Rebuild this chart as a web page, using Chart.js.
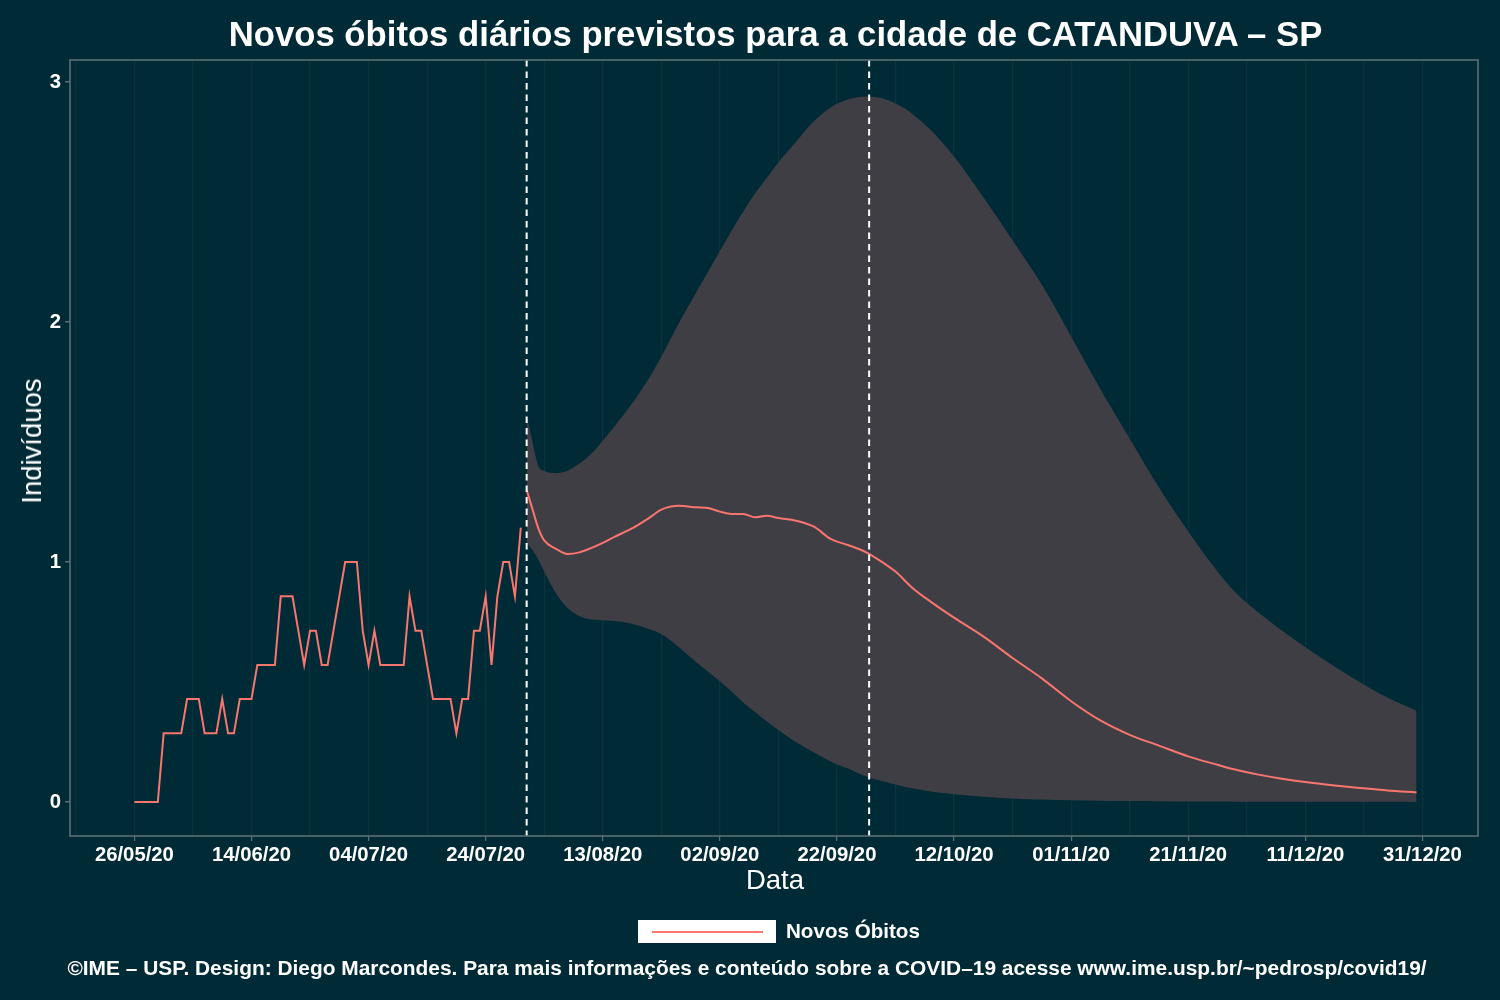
<!DOCTYPE html>
<html><head><meta charset="utf-8">
<script src="https://cdn.jsdelivr.net/npm/chart.js@4.4.1/dist/chart.umd.min.js"></script>
<style>
html,body{margin:0;padding:0;background:#002b36;}
#wrap{position:relative;width:1500px;height:1000px;overflow:hidden;background:#002b36;font-family:"Liberation Sans",Arial,Helvetica,sans-serif;color:#ffffff;}
canvas{position:absolute;left:0;top:0;}
.t{position:absolute;white-space:nowrap;}
</style></head><body>
<div id="wrap">
<canvas id="c" width="1500" height="1000"></canvas>
<div class="t" style="left:70px;width:1411px;top:14px;text-align:center;font-weight:bold;font-size:34.7px;line-height:40px;">Novos óbitos diários previstos para a cidade de CATANDUVA – SP</div>
<div class="t" style="left:70px;width:1410px;top:864px;text-align:center;font-size:27.5px;line-height:32px;">Data</div>
<div class="t" style="left:32px;top:441px;transform:translate(-50%,-50%) rotate(-90deg);font-size:27.5px;line-height:32px;">Indivíduos</div>
<div style="position:absolute;left:638px;top:920px;width:138px;height:23px;background:#ffffff;"><div style="position:absolute;left:14px;top:10.5px;width:111px;height:2px;background:#f8766d;"></div></div>
<div class="t" style="left:786px;top:919px;font-weight:bold;font-size:20.6px;line-height:24px;">Novos Óbitos</div>
<div class="t" style="left:0px;width:1494px;top:956px;text-align:center;font-weight:bold;font-size:20.9px;line-height:24px;">©IME – USP. Design: Diego Marcondes. Para mais informações e conteúdo sobre a COVID–19 acesse www.ime.usp.br/~pedrosp/covid19/</div>
</div>
<script>
// x values are days counted from 26/05/20
const tickDays = [0,20,40,60,80,100,120,140,160,180,200,220];
const tickLabels = ["26/05/20","14/06/20","04/07/20","24/07/20","13/08/20","02/09/20","22/09/20","12/10/20","01/11/20","21/11/20","11/12/20","31/12/20"];
const minorDays = [-10,10,30,50,70,90,110,130,150,170,190,210];
const yTicks = [0,1,2,3];
const yTickLabels = ["0","1","2","3"];

// observed (days 0..66)
const obsValues = [0,0,0,0,0, 0.286,0.286,0.286,0.286, 0.429,0.429,0.429, 0.286,0.286,0.286, 0.429, 0.286,0.286, 0.429,0.429,0.429, 0.571,0.571,0.571,0.571, 0.857,0.857,0.857, 0.714, 0.571, 0.714,0.714, 0.571,0.571, 0.714,0.857,1,1,1, 0.714,0.571,0.714, 0.571,0.571,0.571,0.571,0.571, 0.857, 0.714,0.714, 0.571, 0.429,0.429,0.429,0.429, 0.286, 0.429,0.429, 0.714,0.714, 0.857, 0.571, 0.857, 1,1, 0.857, 1.143];

// prediction
const predDays = [67,68,69,70,72,74,76,78,80,82,85,88,90,93,96,98,100,102,104,106,108,110,113,116,119,122,125,128,130,133,136,140,145,150,155,160,165,170,175,180,185,188,192,196,200,205,210,214,219];
const predValues = [1.30,1.22,1.14,1.09,1.055,1.033,1.04,1.058,1.08,1.105,1.14,1.185,1.218,1.234,1.228,1.225,1.21,1.20,1.20,1.186,1.193,1.183,1.172,1.148,1.095,1.07,1.04,0.995,0.96,0.89,0.835,0.768,0.69,0.60,0.515,0.42,0.34,0.28,0.235,0.19,0.155,0.135,0.114,0.097,0.083,0.069,0.057,0.048,0.04];
const predUpper = [1.61,1.50,1.40,1.38,1.37,1.38,1.41,1.45,1.505,1.565,1.66,1.77,1.855,1.995,2.125,2.21,2.295,2.38,2.46,2.535,2.60,2.665,2.75,2.835,2.895,2.928,2.94,2.93,2.91,2.865,2.80,2.69,2.52,2.34,2.155,1.94,1.72,1.515,1.31,1.127,0.96,0.875,0.79,0.715,0.645,0.565,0.49,0.435,0.38];
const predLower = [1.08,1.05,1.01,0.96,0.87,0.808,0.775,0.76,0.757,0.754,0.743,0.72,0.70,0.645,0.582,0.543,0.503,0.46,0.415,0.375,0.336,0.30,0.25,0.207,0.168,0.138,0.106,0.085,0.073,0.056,0.044,0.032,0.022,0.015,0.010,0.007,0.005,0.004,0.003,0.002,0.002,0.0015,0.001,0.001,0.001,0.0008,0.0006,0.0005,0.0004];

const markerDays = [67, 125.5];

const BAND = '#403e45', LINE = '#f8766d', FRAME = '#5b6f75';

const obsData = obsValues.map((v,i)=>({x:i,y:v}));
const predData = predDays.map((d,i)=>({x:d,y:predValues[i]}));
const upData = predDays.map((d,i)=>({x:d,y:predUpper[i]}));
const loData = predDays.map((d,i)=>({x:d,y:predLower[i]}));

const allXTicks = tickDays.concat(minorDays).sort((a,b)=>a-b);

const markers = {
  id:'markers',
  afterDatasetsDraw(chart){
    const {ctx, chartArea:a, scales:{x}} = chart;
    ctx.save();
    ctx.strokeStyle = '#ffffff';
    ctx.lineWidth = 2;
    ctx.setLineDash([6.5,5]);
    markerDays.forEach(d=>{
      const px = x.getPixelForValue(d);
      ctx.beginPath(); ctx.moveTo(px, a.top); ctx.lineTo(px, a.bottom); ctx.stroke();
    });
    ctx.restore();
  }
};
const frame = {
  id:'frame',
  afterDraw(chart){
    const {ctx, chartArea:a} = chart;
    ctx.save();
    ctx.strokeStyle = FRAME; ctx.lineWidth = 1.6;
    ctx.strokeRect(a.left, a.top, a.right-a.left, a.bottom-a.top);
    ctx.restore();
  }
};

new Chart(document.getElementById('c'), {
  type:'line',
  data:{datasets:[
    {label:'upper', data:upData, fill:'+1', backgroundColor:BAND, borderWidth:0, pointRadius:0, cubicInterpolationMode:'monotone', order:3},
    {label:'lower', data:loData, fill:false, borderWidth:0, pointRadius:0, cubicInterpolationMode:'monotone', order:2},
    {label:'Novos Óbitos previstos', data:predData, borderColor:LINE, borderWidth:2, pointRadius:0, fill:false, cubicInterpolationMode:'monotone', order:1},
    {label:'Novos Óbitos', data:obsData, borderColor:LINE, borderWidth:2, pointRadius:0, fill:false, tension:0, order:0}
  ]},
  options:{
    responsive:false, animation:false, devicePixelRatio:1,
    layout:{padding:{top:60, right:22, bottom:0, left:0}},
    plugins:{legend:{display:false}, title:{display:false}, tooltip:{enabled:false}},
    scales:{
      x:{type:'linear', min:-11, max:229.5, z:1,
        afterBuildTicks(s){ s.ticks = allXTicks.map(v=>({value:v})); },
        afterFit(s){ s.height = 164; },
        ticks:{autoSkip:false, maxRotation:0, padding:2, color:'#ffffff', font:{family:'"Liberation Sans", Arial, sans-serif', size:20.3, weight:'bold'},
          callback(v){ const i = tickDays.indexOf(v); return i>=0 ? tickLabels[i] : ''; }},
        grid:{color:'rgba(255,255,255,0.045)', lineWidth:1.2, drawTicks:true, tickLength:5,
          tickColor(c){ return tickDays.indexOf(c.tick.value)>=0 ? FRAME : 'rgba(0,0,0,0)'; }},
        border:{display:false}
      },
      y:{type:'linear', min:-0.1417, max:3.0917,
        afterBuildTicks(s){ s.ticks = yTicks.map(v=>({value:v})); },
        afterFit(s){ s.width = 70; },
        ticks:{padding:4, color:'#ffffff', font:{family:'"Liberation Sans", Arial, sans-serif', size:20.3, weight:'bold'},
          callback(v){ const i = yTicks.indexOf(v); return i>=0 ? yTickLabels[i] : ''; }},
        grid:{drawOnChartArea:false, drawTicks:true, tickLength:5, tickColor:FRAME, lineWidth:1.5},
        border:{display:false}
      }
    }
  },
  plugins:[markers, frame]
});
</script>
</body></html>
